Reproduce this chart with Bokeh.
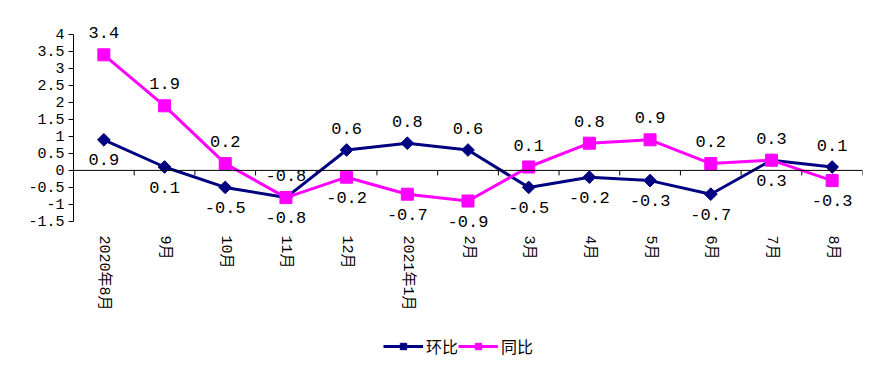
import math
from bokeh.plotting import figure
from bokeh.models import Range1d, FixedTicker, Legend, LegendItem, ColumnDataSource, Span
from bokeh.embed import file_html
from bokeh.resources import INLINE
from bokeh.core.properties import value

# ---- data ----
categories = ["2020年8月", "9月", "10月", "11月", "12月", "2021年1月", "2月",
              "3月", "4月", "5月", "6月", "7月", "8月"]
mom = [0.9, 0.1, -0.5, -0.8, 0.6, 0.8, 0.6, -0.5, -0.2, -0.3, -0.7, 0.3, 0.1]   # 环比
yoy = [3.4, 1.9, 0.2, -0.8, -0.2, -0.7, -0.9, 0.1, 0.8, 0.9, 0.2, 0.3, -0.3]    # 同比
y_ticks = [-1.5, -1, -0.5, 0, 0.5, 1, 1.5, 2, 2.5, 3, 3.5, 4]
y_tick_labels = ["-1.5", "-1", "-0.5", "0", "0.5", "1", "1.5", "2", "2.5", "3", "3.5", "4"]
series_names = ["环比", "同比"]

NAVY = "#000080"
MAGENTA = "#FF00FF"
NUM_FONT = "Liberation Mono"
CJK_FONT = "Liberation Mono, Noto Sans CJK SC"

idx = list(range(len(categories)))

# frame covers the plot plus the category-label and legend area below it
Y0, Y1 = -5.65, 4.35
FRAME_H = 340
p = figure(frame_width=789, frame_height=FRAME_H,
           x_range=Range1d(-0.5, len(categories) - 0.5),
           y_range=Range1d(Y0, Y1),
           output_backend="svg", toolbar_location=None,
           min_border_left=73, min_border_top=22, min_border_right=5,
           min_border_bottom=0)
p.outline_line_color = None
p.grid.visible = False
p.background_fill_color = "white"
p.xaxis.visible = False

# y axis
ya = p.yaxis[0]
ya.ticker = FixedTicker(ticks=y_ticks)
ya.major_label_overrides = {t: l for t, l in zip(y_ticks, y_tick_labels)}
ya.bounds = (min(y_ticks), max(y_ticks))
ya.major_tick_in = 0
ya.major_tick_out = 5
ya.minor_tick_line_color = None
ya.axis_line_color = "black"
ya.major_tick_line_color = "black"
ya.major_label_text_font = NUM_FONT
ya.major_label_text_font_size = "15px"
ya.major_label_text_color = "black"
ya.major_label_standoff = 4

# zero line with tick marks at category boundaries
p.add_layout(Span(location=0, dimension="width", line_color="black", line_width=1))
px_per_unit = FRAME_H / (Y1 - Y0)
tick_len = 5 / px_per_unit
bx = [i + 0.5 for i in idx]
p.segment(x0=bx, x1=bx, y0=[0] * len(bx), y1=[-tick_len] * len(bx),
          line_color="black", line_width=1)

# category labels, vertical, hung below the bottom of the value axis
p.text(x=idx, y=[min(y_ticks)] * len(idx), text=categories,
       angle=-math.pi / 2, y_offset=14,
       text_align="left", text_baseline="middle",
       text_font=value(CJK_FONT), text_font_size="15px", text_color="black")

# series
src_m = ColumnDataSource(dict(x=idx, y=mom))
src_y = ColumnDataSource(dict(x=idx, y=yoy))
l1 = p.line("x", "y", source=src_m, line_color=NAVY, line_width=3)
s1 = p.scatter("x", "y", source=src_m, marker="square", angle=math.pi / 4, size=9,
               fill_color=NAVY, line_color=NAVY)
l2 = p.line("x", "y", source=src_y, line_color=MAGENTA, line_width=3)
s2 = p.scatter("x", "y", source=src_y, marker="square", size=12,
               fill_color=MAGENTA, line_color=MAGENTA)

# data labels: above for the upper series, below for the lower one
def label_source(vals, other, upper_on_tie):
    offs = []
    for v, o in zip(vals, other):
        above = v > o or (v == o and upper_on_tie)
        offs.append(-22 if above else 20)
    return ColumnDataSource(dict(x=idx, y=vals, t=[f"{v:g}" for v in vals], off=offs))

for s in (label_source(mom, yoy, False), label_source(yoy, mom, True)):
    p.text("x", "y", text="t", source=s, y_offset="off",
           text_align="center", text_baseline="middle",
           text_font=value(NUM_FONT), text_font_size="17px", text_color="black")

legend = Legend(items=[LegendItem(label=series_names[0], renderers=[l1, s1]),
                       LegendItem(label=series_names[1], renderers=[l2, s2])],
                orientation="horizontal", location=(310, 4),
                border_line_color=None, background_fill_alpha=0,
                glyph_width=40, glyph_height=16, label_standoff=3, spacing=0,
                label_text_font="Noto Sans CJK SC", label_text_font_size="16px",
                label_text_color="black", margin=0, padding=4)
p.add_layout(legend, "center")

open("out.html", "w").write(file_html(p, INLINE))
